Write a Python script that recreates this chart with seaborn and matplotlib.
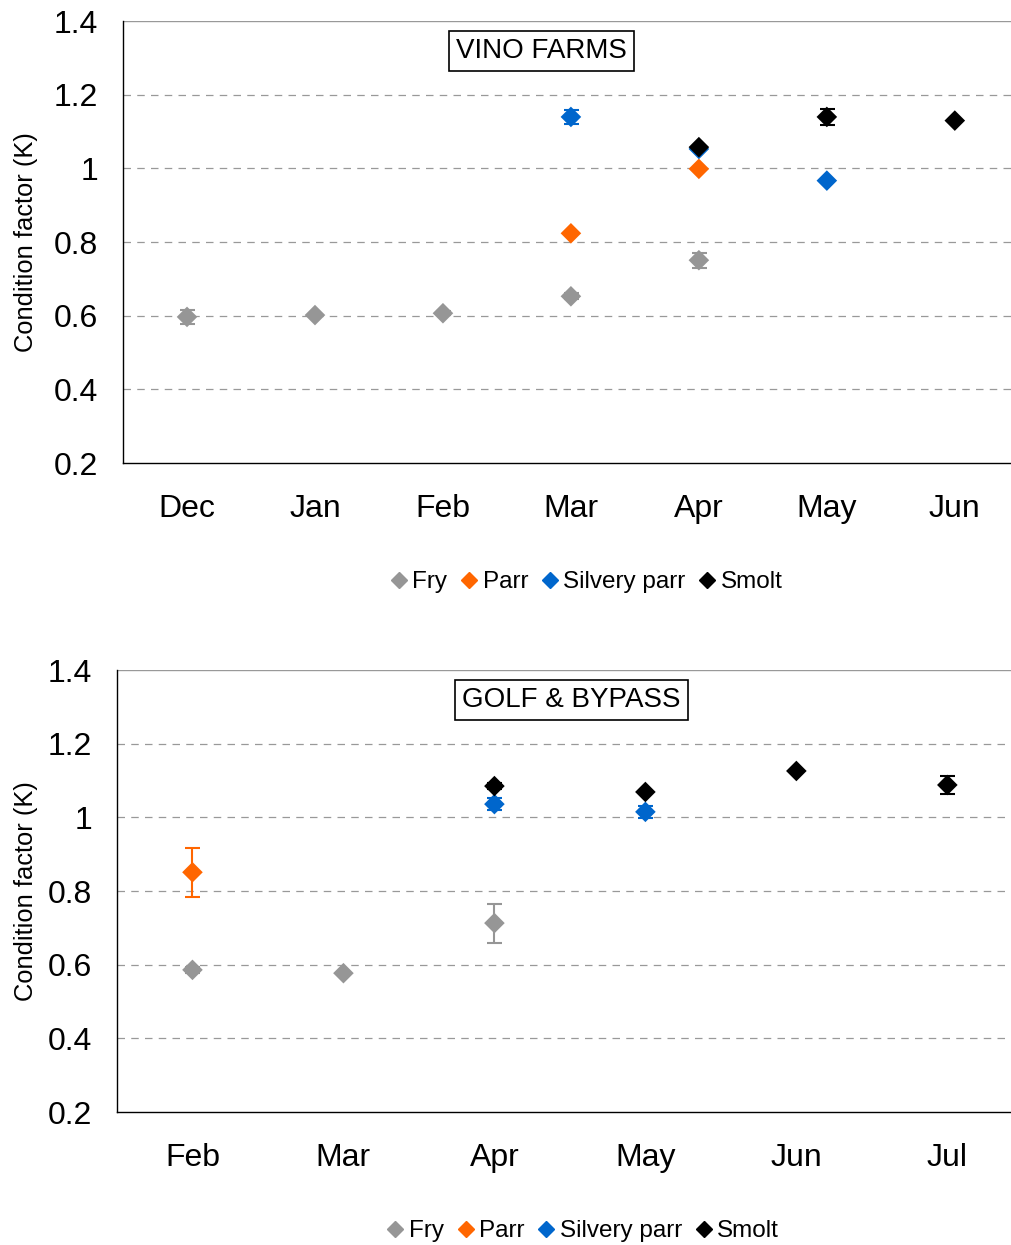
import matplotlib
matplotlib.use("Agg")
import matplotlib.pyplot as plt
from matplotlib.lines import Line2D
import seaborn as sns
import pandas as pd

# ---- data: Vino Farms ----
vino_months = ["Dec", "Jan", "Feb", "Mar", "Apr", "May", "Jun"]
vino_stage = ["Fry", "Fry", "Fry", "Fry", "Fry",
              "Parr", "Parr",
              "Silvery parr", "Silvery parr", "Silvery parr",
              "Smolt", "Smolt", "Smolt"]
vino_month = ["Dec", "Jan", "Feb", "Mar", "Apr",
              "Mar", "Apr",
              "Mar", "Apr", "May",
              "Apr", "May", "Jun"]
vino_k = [0.597, 0.602, 0.607, 0.653, 0.751,
          0.824, 0.999,
          1.140, 1.053, 0.967,
          1.058, 1.140, 1.130]
vino_err = [0.020, 0.0, 0.006, 0.008, 0.020,
            0.0, 0.0,
            0.018, 0.0, 0.0,
            0.0, 0.022, 0.0]

# ---- data: Golf & Bypass ----
golf_months = ["Feb", "Mar", "Apr", "May", "Jun", "Jul"]
golf_stage = ["Fry", "Fry", "Fry",
              "Parr",
              "Silvery parr", "Silvery parr",
              "Smolt", "Smolt", "Smolt", "Smolt"]
golf_month = ["Feb", "Mar", "Apr",
              "Feb",
              "Apr", "May",
              "Apr", "May", "Jun", "Jul"]
golf_k = [0.586, 0.577, 0.713,
          0.851,
          1.036, 1.015,
          1.085, 1.069, 1.126, 1.088]
golf_err = [0.008, 0.0, 0.053,
            0.066,
            0.016, 0.016,
            0.008, 0.0, 0.0, 0.024]

stages = ["Fry", "Parr", "Silvery parr", "Smolt"]
colors = {"Fry": "#969696", "Parr": "#FF6600", "Silvery parr": "#0066CC", "Smolt": "#000000"}

sns.set_theme(style="white")
plt.rcParams["font.family"] = ["Liberation Sans", "DejaVu Sans"]
plt.rcParams["text.color"] = "black"
plt.rcParams["axes.labelcolor"] = "black"
plt.rcParams["xtick.color"] = "black"
plt.rcParams["ytick.color"] = "black"

fig = plt.figure(figsize=(10.11, 12.45), dpi=100)
ax1 = fig.add_axes([0.1217, 0.628, 0.886, 0.355])
ax2 = fig.add_axes([0.1157, 0.1068, 0.896, 0.355])


def draw_panel(ax, months, stage, month, k, err, title, title_x, leg_x):
    df = pd.DataFrame({"stage": stage, "month": month, "K": k, "err": err})
    df["pos"] = df["month"].map({m: i for i, m in enumerate(months)})

    # error bars first, then the diamonds on top
    for st in stages:
        sub = df[(df["stage"] == st) & (df["err"] > 0)]
        ax.errorbar(sub["pos"], sub["K"], yerr=sub["err"], fmt="none",
                    ecolor=colors[st], elinewidth=1.5, capsize=5.4, capthick=1.5, zorder=3)
    sns.scatterplot(data=df, x="pos", y="K", hue="stage", hue_order=stages,
                    palette=colors, marker="D", s=110, edgecolor="none",
                    legend=False, ax=ax, zorder=4)

    ax.set_xlim(-0.5, len(months) - 0.5)
    ax.set_ylim(0.2, 1.4)
    ax.set_yticks([0.2, 0.4, 0.6, 0.8, 1.0, 1.2, 1.4])
    ax.set_yticklabels(["0.2", "0.4", "0.6", "0.8", "1", "1.2", "1.4"], fontsize=23)
    ax.set_xticks(range(len(months)))
    ax.set_xticklabels(months, fontsize=23)
    ax.set_xticks([i + 0.5 for i in range(len(months) - 1)], minor=True)
    ax.tick_params(axis="x", which="major", length=0, pad=22)
    ax.tick_params(axis="x", which="minor", length=6, width=1, color="black", direction="out")
    ax.tick_params(axis="y", which="major", length=7, width=1, color="black", direction="out", pad=11)
    for y in [0.4, 0.6, 0.8, 1.0, 1.2]:
        ax.axhline(y, color="#999999", lw=0.9, ls=(0, (6, 5)), zorder=1)
    ax.axhline(1.4, color="#999999", lw=1.0, zorder=1)

    for side in ["top", "right"]:
        ax.spines[side].set_visible(False)
    for side in ["left", "bottom"]:
        ax.spines[side].set_color("black")
        ax.spines[side].set_linewidth(1.0)

    ax.set_xlabel("")
    ax.set_ylabel("Condition factor (K)", fontsize=18.4)
    # right edge of the rotated label at x ~ 38 px
    ax_left_px = ax.get_position().x0 * 1011
    ax_w_px = ax.get_position().width * 1011
    ax.yaxis.set_label_coords((38 - ax_left_px) / ax_w_px, 0.5)
    ax.text(title_x, 1.318, title, fontsize=20, ha="center", va="center",
            bbox=dict(boxstyle="square,pad=0.25", facecolor="white", edgecolor="black", linewidth=1.2),
            zorder=5)

    handles = [Line2D([], [], marker="D", linestyle="none", color=colors[st],
                      markersize=8, label=st) for st in stages]
    ax.legend(handles=handles, loc="center", bbox_to_anchor=(leg_x, -0.27),
              ncol=4, frameon=False, fontsize=17.5, handletextpad=-0.2,
              columnspacing=0.15, handlelength=1.5)


draw_panel(ax1, vino_months, vino_stage, vino_month, vino_k, vino_err, "VINO FARMS", 2.77, 0.512)
draw_panel(ax2, golf_months, golf_stage, golf_month, golf_k, golf_err, "GOLF & BYPASS", 2.51, 0.509)

fig.savefig("out.png", dpi=100)
